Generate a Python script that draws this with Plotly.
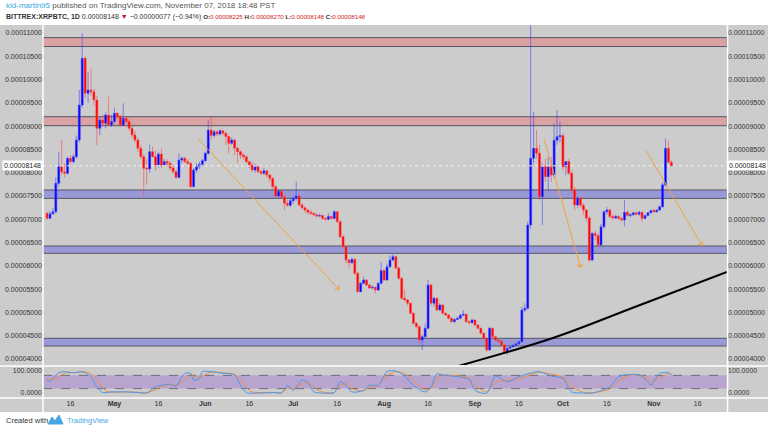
import datetime as dt
import plotly.graph_objects as go

# ---------------- data (prices in satoshi, 1e-8 BTC) ----------------
start_date = dt.date(2018, 4, 8)

opens = [7128, 7021, 7120, 7164, 7772, 8130, 8020, 7987, 8309, 8238,
         8345, 8703, 9454, 10456, 9705, 9776, 9741, 9562, 8953, 9132,
         9061, 9240, 9025, 9100, 9275, 9204, 9025, 9168, 9097, 8953,
         8810, 8703, 8524, 8345, 8095, 8080, 8452, 8345, 8166, 8400,
         8166, 8240, 8202, 8100, 8023, 7900, 8273, 8309, 8240, 8202,
         7701, 8058, 8130, 8180, 8260, 8417, 8917, 8800, 8880, 8830,
         8900, 8850, 8780, 8631, 8703, 8524, 8452, 8380, 8345, 8238,
         8166, 8058, 8130, 8023, 7987, 8040, 7951, 7880, 7701, 7500,
         7600, 7480, 7343, 7300, 7400, 7450, 7500, 7307, 7250, 7200,
         7150, 7128, 7100, 7070, 7080, 7020, 7000, 7060, 7020, 7164,
         6950, 6627, 6412, 6126, 6070, 6141, 5840, 5446, 5625, 5697,
         5590, 5525, 5540, 5482, 5625, 5900, 5697, 5983, 6126, 6198,
         5955, 5733, 5303, 5267, 5196, 4981, 4766, 4695, 4409, 4480,
         4659, 5590, 5200, 5303, 5055, 5160, 4981, 4945, 4874, 4802,
         4850, 4874, 4940, 4960, 4802, 4780, 4838, 4731, 4659, 4552,
         4445, 4194, 4659, 4480, 4409, 4380, 4301, 4158, 4230, 4260,
         4290, 4330, 4373, 5053, 5090, 6878, 8309, 8524, 8420, 7486,
         8130, 7915, 8130, 7950, 8700, 8774, 8800, 8130, 8240, 7990,
         7629, 7307, 7450, 7300, 7200, 7030, 6126, 6698, 6650, 6450,
         6842, 7164, 7200, 7060, 7030, 7060, 7020, 6985, 7150, 7080,
         7100, 7140, 7110, 7150, 7020, 7080, 7140, 7190, 7160, 7199,
         7270, 7740, 8524, 8225]

highs = [7160, 7180, 7250, 7900, 8452, 8703, 8200, 8350, 8380, 8400,
         8800, 9776, 10993, 10500, 10170, 10242, 9800, 9650, 9200, 9250,
         9300, 9633, 9250, 9400, 9300, 9250, 9490, 9200, 9150, 9000,
         8900, 8750, 8600, 8400, 8300, 8600, 8560, 8480, 8450, 8520,
         8300, 8290, 8250, 8150, 8060, 8417, 8345, 8340, 8290, 8230,
         8100, 8200, 8240, 8300, 8450, 9132, 9204, 8920, 8910, 8930,
         8920, 8880, 8800, 8760, 8730, 8560, 8480, 8420, 8370, 8260,
         8238, 8200, 8150, 8060, 8100, 8060, 7970, 7900, 7737, 7650,
         7630, 7520, 7420, 7450, 7480, 7808, 7550, 7350, 7280, 7230,
         7200, 7150, 7130, 7128, 7100, 7050, 7130, 7080, 7200, 7180,
         6980, 6650, 6430, 6140, 6180, 6160, 5870, 5660, 5768, 5720,
         5610, 5580, 5560, 5650, 6090, 5930, 6050, 6230, 6260, 6220,
         5980, 5760, 5482, 5290, 5220, 5000, 4790, 4720, 4520, 4766,
         5697, 5620, 5340, 5320, 5200, 5180, 5010, 4970, 4900, 4880,
         4910, 4970, 5053, 4980, 4830, 4870, 4850, 4750, 4680, 4570,
         4460, 4700, 4680, 4500, 4430, 4400, 4320, 4260, 4290, 4320,
         4350, 4400, 5124, 5196, 6950, 11800, 9311, 8918, 8600, 8200,
         8300, 8345, 8345, 9060, 9347, 9100, 8850, 8250, 8300, 8050,
         7700, 7500, 7480, 7350, 7230, 7060, 6720, 6750, 6700, 6900,
         7180, 7260, 7230, 7100, 7100, 7090, 7050, 7414, 7200, 7130,
         7160, 7170, 7180, 7170, 7100, 7150, 7200, 7230, 7220, 7300,
         7800, 8738, 8700, 8270]

lows = [6990, 7000, 7090, 7120, 7700, 7950, 7900, 7950, 8200, 8200,
        8300, 8650, 9400, 9600, 9500, 9650, 9450, 8595, 8800, 9000,
        8950, 9000, 8980, 9050, 9150, 8990, 9000, 9050, 8900, 8750,
        8650, 8450, 8300, 7486, 7737, 8000, 8330, 8050, 8100, 8100,
        8150, 8150, 8050, 7980, 7870, 7880, 8200, 8200, 8150, 7680,
        7690, 8000, 8080, 8150, 8240, 8380, 8700, 8750, 8780, 8800,
        8800, 8600, 8417, 8600, 8380, 8200, 8300, 8280, 8200, 8100,
        8023, 8000, 7990, 7950, 7950, 7900, 7800, 7650, 7480, 7480,
        7450, 7200, 7270, 7260, 7330, 7400, 7280, 7200, 7150, 7100,
        7090, 7060, 7040, 7040, 6990, 6970, 6980, 6990, 7000, 6920,
        6600, 6380, 6055, 5950, 6040, 5800, 5420, 5430, 5600, 5560,
        5500, 5500, 5410, 5460, 5600, 5680, 5680, 5960, 6100, 5930,
        5700, 5280, 5240, 5150, 4960, 4740, 4660, 4337, 4194, 4450,
        4640, 5150, 5124, 5017, 5030, 4960, 4920, 4850, 4780, 4780,
        4830, 4850, 4920, 4780, 4750, 4760, 4710, 4640, 4530, 4420,
        4150, 4180, 4450, 4380, 4350, 4280, 4120, 4086, 4200, 4240,
        4270, 4310, 4350, 5000, 5060, 6800, 8200, 8300, 7400, 6878,
        7800, 7600, 7800, 7900, 8600, 8650, 8050, 7950, 7950, 7550,
        7200, 7250, 7250, 7100, 6950, 6090, 6100, 6550, 6400, 6420,
        6800, 7100, 7030, 6990, 7000, 6990, 6950, 6850, 7050, 7040,
        7070, 7090, 7080, 6950, 7000, 7060, 7120, 7150, 7140, 7180,
        7250, 7700, 8200, 8148]

closes = [7021, 7120, 7164, 7772, 8130, 8020, 7987, 8309, 8238, 8345,
          8703, 9454, 10456, 9705, 9776, 9741, 9562, 8953, 9132, 9061,
          9240, 9025, 9100, 9275, 9204, 9025, 9168, 9097, 8953, 8810,
          8703, 8524, 8345, 8095, 8080, 8452, 8345, 8166, 8400, 8166,
          8240, 8202, 8100, 8023, 7900, 8273, 8309, 8240, 8202, 7701,
          8058, 8130, 8180, 8260, 8417, 8917, 8800, 8880, 8830, 8900,
          8850, 8780, 8631, 8703, 8524, 8452, 8380, 8345, 8238, 8166,
          8058, 8130, 8023, 7987, 8040, 7951, 7880, 7701, 7500, 7600,
          7480, 7343, 7300, 7400, 7450, 7500, 7307, 7250, 7200, 7150,
          7128, 7100, 7070, 7080, 7020, 7000, 7060, 7020, 7164, 6950,
          6627, 6412, 6126, 6070, 6141, 5840, 5446, 5625, 5697, 5590,
          5525, 5540, 5482, 5625, 5900, 5697, 5983, 6126, 6198, 5955,
          5733, 5303, 5267, 5196, 4981, 4766, 4695, 4409, 4480, 4659,
          5590, 5200, 5303, 5055, 5160, 4981, 4945, 4874, 4802, 4850,
          4874, 4940, 4960, 4802, 4780, 4838, 4731, 4659, 4552, 4445,
          4194, 4659, 4480, 4409, 4380, 4301, 4158, 4230, 4260, 4290,
          4330, 4373, 5053, 5090, 6878, 8309, 8524, 8420, 7486, 8130,
          7915, 8130, 7950, 8700, 8774, 8800, 8130, 8240, 7990, 7629,
          7307, 7450, 7300, 7200, 7030, 6126, 6698, 6650, 6450, 6842,
          7164, 7200, 7060, 7030, 7060, 7020, 6985, 7150, 7080, 7100,
          7140, 7110, 7150, 7020, 7080, 7140, 7190, 7160, 7199, 7270,
          7740, 8524, 8225, 8148]

last_price = 8148

# stochastic (%K blue, %D orange) read at sample days (day index from start)
stoch_k_day = [0, 1, 2, 4, 6, 9, 12, 13, 15, 17, 19, 22, 27, 31, 34, 37, 39, 42, 44, 47,
               49, 50, 52, 53, 56, 60, 64, 66, 68, 73, 78, 80, 82, 84, 87, 89, 91, 94, 98, 100,
               102, 104, 108, 110, 113, 116, 119, 122, 125, 129, 131, 133, 135, 140, 144, 146, 150, 153, 157, 161,
               166, 168, 172, 176, 179, 183, 186, 192, 195, 198, 202, 205, 206, 209, 212, 213]
stoch_k_val = [58, 51, 66, 92, 97, 92, 97, 92, 74, 28, 2, 5, 5, 2, 0, 28, 35, 40, 31, 89,
               89, 58, 66, 97, 97, 89, 82, 35, 2, 0, 2, 0, 35, 12, 58, 46, 5, 0, 2, 51,
               35, 5, 12, 35, 35, 97, 100, 77, 35, 5, 28, 86, 82, 74, 62, 12, 0, 77, 51, 74,
               94, 97, 77, 66, 5, 0, 0, 28, 74, 83, 82, 51, 35, 89, 92, 82]
stoch_d_day = [0, 2, 4, 6, 9, 12, 14, 16, 18, 20, 22, 27, 31, 34, 37, 39, 42, 44, 47, 49,
               51, 53, 56, 60, 64, 66, 68, 70, 73, 78, 80, 82, 84, 87, 89, 91, 94, 98, 100, 102,
               104, 108, 110, 113, 116, 119, 122, 125, 129, 131, 133, 135, 140, 144, 146, 150, 153, 157, 161, 166,
               168, 172, 176, 179, 183, 186, 192, 195, 198, 202, 205, 206, 209, 212, 213]
stoch_d_val = [65, 60, 75, 90, 93, 95, 93, 75, 40, 10, 4, 5, 3, 2, 15, 30, 38, 36, 60, 85,
               70, 78, 95, 92, 85, 60, 25, 5, 2, 2, 2, 20, 20, 40, 48, 25, 5, 3, 35, 42,
               20, 10, 25, 35, 80, 97, 88, 55, 15, 20, 65, 80, 78, 68, 35, 5, 50, 58, 65, 88,
               95, 85, 72, 30, 3, 1, 18, 55, 78, 82, 65, 48, 70, 88, 86]

# horizontal zones (satoshi)
red_zones = [(10710, 10900), (9010, 9203)]
blue_zones = [(7450, 7630), (6270, 6427), (4280, 4445)]

# date axis labels
tick_dates = ["2018-04-16", "2018-05-01", "2018-05-16", "2018-06-01", "2018-06-16",
              "2018-07-01", "2018-07-16", "2018-08-01", "2018-08-16", "2018-09-01",
              "2018-09-16", "2018-10-01", "2018-10-16", "2018-11-01", "2018-11-16"]
tick_text = ["16", "<b>May</b>", "16", "<b>Jun</b>", "16", "<b>Jul</b>", "16", "<b>Aug</b>",
             "16", "<b>Sep</b>", "16", "<b>Oct</b>", "16", "<b>Nov</b>", "16"]
price_ticks = [4000, 4500, 5000, 5500, 6000, 6500, 7000, 7500, 8000, 8500,
               9000, 9500, 10000, 10500, 11000]

# drawings: arrows (tail -> head) and trend line, in (date, satoshi)
arrows = [(("2018-05-28 22:00", 8767), ("2018-07-16 20:00", 5482)),
          (("2018-09-24 12:00", 8746), ("2018-10-07 02:00", 5955)),
          (("2018-10-29 02:00", 8510), ("2018-11-17 12:00", 6427))]
trend_x = ["2018-08-23 21:00", "2018-09-27 14:00", "2018-10-26 10:00", "2018-11-25 23:00"]
trend_y = [3807, 4452, 5139, 5869]

# ---------------- figure ----------------
S = 1e-8
W, H = 768, 431
ML, MR, MT, MB = 43, 41, 25, 33
PW, PH = W - ML - MR, H - MT - MB
FONT = "Liberation Sans"
GRAY = "#cccccc"


def px_x(x):
    return (x - ML) / PW


def px_y(y):
    return (H - MB - y) / PH


dates = [start_date + dt.timedelta(days=i) for i in range(len(closes))]
x_range = ["2018-04-06 15:00", "2018-11-25 23:30"]

fig = go.Figure()

fig.add_trace(go.Candlestick(
    x=dates,
    open=[v * S for v in opens], high=[v * S for v in highs],
    low=[v * S for v in lows], close=[v * S for v in closes],
    increasing=dict(line=dict(color="rgba(60,60,255,0.55)", width=1), fillcolor="#0000ff"),
    decreasing=dict(line=dict(color="rgba(255,60,60,0.55)", width=1), fillcolor="#ff0000"),
    whiskerwidth=0, showlegend=False, hoverinfo="skip",
    xaxis="x", yaxis="y",
))

# current price dotted line (on right-side price axis)
fig.add_trace(go.Scatter(
    x=x_range, y=[last_price * S, last_price * S], mode="lines",
    line=dict(color="#f2f2f2", width=1, dash="dot"),
    showlegend=False, hoverinfo="skip", xaxis="x", yaxis="y2",
))

# trend line
fig.add_trace(go.Scatter(
    x=trend_x, y=[v * S for v in trend_y], mode="lines",
    line=dict(color="#000000", width=2, shape="spline"), showlegend=False, hoverinfo="skip",
    xaxis="x", yaxis="y", cliponaxis=True,
))

fig.add_trace(go.Scatter(
    x=[start_date + dt.timedelta(days=d) for d in stoch_d_day], y=stoch_d_val, mode="lines",
    line=dict(color="#f28c45", width=1, shape="spline", smoothing=0.8),
    showlegend=False, hoverinfo="skip", xaxis="x2", yaxis="y3",
))
fig.add_trace(go.Scatter(
    x=[start_date + dt.timedelta(days=d) for d in stoch_k_day], y=stoch_k_val, mode="lines",
    line=dict(color="#4a98ec", width=1, shape="spline", smoothing=0.8),
    showlegend=False, hoverinfo="skip", xaxis="x2", yaxis="y4",
))

shapes = []
# white header / footer areas over grey paper
shapes.append(dict(type="rect", xref="paper", yref="paper", x0=px_x(0), x1=px_x(W),
                   y0=px_y(0), y1=px_y(MT), fillcolor="white", line=dict(width=0), layer="below"))
shapes.append(dict(type="rect", xref="paper", yref="paper", x0=px_x(0), x1=px_x(W),
                   y0=px_y(H), y1=px_y(412), fillcolor="white", line=dict(width=0), layer="below"))

for lo, hi in red_zones:
    shapes.append(dict(type="rect", xref="x domain", yref="y", x0=0, x1=1, y0=lo * S, y1=hi * S,
                       fillcolor="rgba(235,110,110,0.45)", line=dict(color="#555560", width=1),
                       layer="below"))
for lo, hi in blue_zones:
    shapes.append(dict(type="rect", xref="x domain", yref="y", x0=0, x1=1, y0=lo * S, y1=hi * S,
                       fillcolor="rgba(90,90,230,0.45)", line=dict(color="#555560", width=1),
                       layer="below"))

# stochastic band
shapes.append(dict(type="rect", xref="x2 domain", yref="y3", x0=0, x1=1, y0=20, y1=80,
                   fillcolor="rgba(150,90,215,0.35)", line=dict(width=0), layer="below"))
for lvl in (20, 80):
    shapes.append(dict(type="line", xref="x2 domain", yref="y3", x0=0, x1=1, y0=lvl, y1=lvl,
                       line=dict(color="#6e6e7a", width=1, dash="dash"), layer="below"))

# white separators
for yy in (366, 398):
    shapes.append(dict(type="line", xref="paper", yref="paper", x0=px_x(0), x1=px_x(W),
                       y0=px_y(yy), y1=px_y(yy), line=dict(color="white", width=1.5)))
for xx in (43, 727.5):
    shapes.append(dict(type="line", xref="paper", yref="paper", x0=px_x(xx), x1=px_x(xx),
                       y0=px_y(MT), y1=px_y(412), line=dict(color="white", width=1.5)))

# TradingView logo (small cloud mark)
lx, ly = 48, 420
shapes.append(dict(type="path", xref="paper", yref="paper",
                   path=("M {:.4f} {:.4f} L {:.4f} {:.4f} L {:.4f} {:.4f} L {:.4f} {:.4f} L {:.4f} {:.4f} Z"
                         .format(px_x(lx), px_y(ly + 4), px_x(lx + 4), px_y(ly - 3),
                                 px_x(lx + 7), px_y(ly + 1), px_x(lx + 11), px_y(ly - 5),
                                 px_x(lx + 15), px_y(ly + 4))),
                   fillcolor="#45a6e4", line=dict(color="#45a6e4", width=1)))

annotations = []
annotations.append(dict(
    xref="paper", yref="paper", x=px_x(4), y=px_y(6), xanchor="left", yanchor="middle",
    showarrow=False, font=dict(family=FONT, size=8, color="#555555"),
    text='<span style="color:#3aa7e0">kid-martin95</span> published on TradingView.com, November 07, 2018 18:48 PST'))
annotations.append(dict(
    xref="paper", yref="paper", x=px_x(4), y=px_y(17), xanchor="left", yanchor="middle",
    showarrow=False, font=dict(family=FONT, size=7, color="#333333"),
    text=('<b>BITTREX:XRPBTC, 1D</b> 0.00008148 <span style="color:#cc1111">\u25bc</span> '
          '\u22120.00000077 (\u22120.94%) <span style="font-size:6.2px">'
          '<b>O:</b><span style="color:#d02020">0.00008225</span> '
          '<b>H:</b><span style="color:#d02020">0.00008270</span> '
          '<b>L:</b><span style="color:#d02020">0.00008148</span> '
          '<b>C:</b><span style="color:#d02020">0.00008148</span></span>')))
annotations.append(dict(
    xref="paper", yref="paper", x=px_x(4), y=px_y(420), xanchor="left", yanchor="middle",
    showarrow=False, font=dict(family=FONT, size=7.5, color="#333333"), text="Created with"))
annotations.append(dict(
    xref="paper", yref="paper", x=px_x(65), y=px_y(420), xanchor="left", yanchor="middle",
    showarrow=False, font=dict(family=FONT, size=7.5, color="#45a6e4"), text="TradingView"))
for xref_side, xa in ((1.0, "left"), (0.0, "right")):
    annotations.append(dict(
        xref="paper", yref="y", x=xref_side, y=last_price * S, xanchor=xa, yanchor="middle",
        showarrow=False, bgcolor="white", borderpad=1,
        font=dict(family=FONT, size=7, color="#222222"), text="0.00008148"))
for (tx, ty), (hx, hy) in arrows:
    annotations.append(dict(
        xref="x", yref="y", axref="x", ayref="y", x=hx, y=hy * S, ax=tx, ay=ty * S,
        showarrow=True, arrowhead=4, arrowsize=1.1, arrowwidth=1, arrowcolor="#f0a040",
        text=""))

tick_font = dict(family=FONT, size=7, color="#333333")
yaxis_common = dict(range=[3872 * S, 11172 * S], tickvals=[v * S for v in price_ticks],
                    tickformat=".8f", showgrid=False, zeroline=False, ticks="",
                    tickfont=tick_font, fixedrange=True, domain=[px_y(365), 1.0],
                    automargin=False)

fig.update_layout(
    width=W, height=H,
    margin=dict(l=ML, r=MR, t=MT, b=MB, pad=0, autoexpand=False),
    paper_bgcolor=GRAY, plot_bgcolor=GRAY,
    font=dict(family=FONT, size=7, color="#333333"),
    showlegend=False,
    boxgap=0.05,
    xaxis=dict(range=x_range, domain=[0, 1], anchor="y", showticklabels=False,
               showgrid=False, zeroline=False, rangeslider=dict(visible=False), ticks="",
               automargin=False),
    xaxis2=dict(range=x_range, domain=[0, 1], anchor="y3", matches="x",
                tickvals=tick_dates, ticktext=tick_text, tickfont=tick_font,
                showgrid=False, zeroline=False, ticks="", tickangle=0, automargin=False),
    yaxis=dict(side="left", anchor="x", **yaxis_common),
    yaxis2=dict(side="right", anchor="x", overlaying="y", **yaxis_common),
    yaxis3=dict(side="left", anchor="x2", domain=[0, px_y(367)], range=[-22.7, 118],
                tickvals=[0, 100], ticktext=["0.0000", "100.0000"], tickfont=tick_font,
                showgrid=False, zeroline=False, ticks="", fixedrange=True, automargin=False),
    yaxis4=dict(side="right", anchor="x2", overlaying="y3", range=[-22.7, 118],
                tickvals=[0, 100], ticktext=["0.0000", "100.0000"], tickfont=tick_font,
                showgrid=False, zeroline=False, ticks="", fixedrange=True, automargin=False),
    shapes=shapes,
    annotations=annotations,
)

fig.write_html("out.html", config={"displayModeBar": False},
               post_script="document.body.style.margin='0px';document.body.style.overflow='hidden';")
